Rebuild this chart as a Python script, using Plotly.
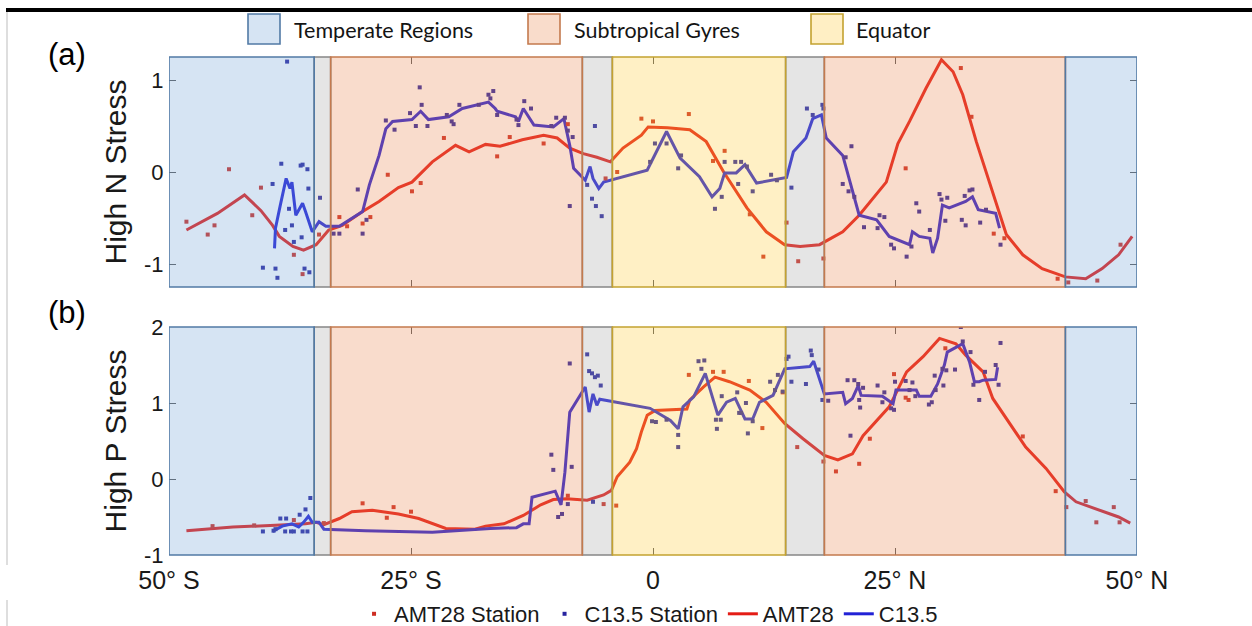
import plotly.graph_objects as go

# ---------------- data ----------------
# region edges (latitude) and region type between consecutive edges
region_edges = [-50, -35, -33.3, -7.3, -4.2, 13.7, 17.7, 42.6, 50]
region_types = ["Temperate Regions", "gap", "Subtropical Gyres", "gap", "Equator",
                "gap", "Subtropical Gyres", "Temperate Regions"]

x_ticks = [-50, -25, 0, 25, 50]
x_ticklabels = ["50° S", "25° S", "0", "25° N", "50° N"]
yN_ticks = [-1, 0, 1]
yN_ticklabels = ["-1", "0", "1"]
yP_ticks = [-1, 0, 1, 2]
yP_ticklabels = ["-1", "0", "1", "2"]

# Panel (a) High N Stress
n_amt_lat = [-48.2, -45.0, -42.2, -40.5, -39.3, -38.6, -37.2, -36.1, -34.8, -33.5, -32.1, -30.0, -28.3,
             -26.3, -24.9, -23.2, -22.8, -20.4, -19.0, -17.3, -15.8, -13.5, -11.3, -9.9, -8.6, -7.2,
             -5.8, -4.4, -3.1, -1.2, -0.5, 1.5, 3.8, 5.5, 7.3, 9.7, 11.7, 13.6, 15.2, 17.2, 17.7,
             19.6, 21.3, 24.1, 25.3, 26.5, 28.2, 29.8, 31.0, 32.0, 33.4, 35.3, 36.5, 38.2, 40.2,
             42.6, 44.7, 46.4, 48.1, 49.5]
n_amt_val = [-0.63, -0.45, -0.25, -0.42, -0.58, -0.70, -0.81, -0.85, -0.79, -0.63, -0.58, -0.43, -0.32,
             -0.17, -0.11, 0.06, 0.11, 0.29, 0.22, 0.30, 0.28, 0.35, 0.40, 0.37, 0.26, 0.20,
             0.16, 0.11, 0.26, 0.40, 0.49, 0.48, 0.46, 0.33, 0.00, -0.39, -0.65, -0.79, -0.81, -0.79, -0.76,
             -0.65, -0.47, -0.11, 0.31, 0.55, 0.91, 1.22, 1.09, 0.84, 0.33, -0.29, -0.68, -0.90, -1.05,
             -1.14, -1.16, -1.05, -0.90, -0.70]

n_c13_lat = [-39.1, -39.0, -38.5, -37.9, -37.5, -37.3, -36.9, -36.2, -35.9, -35.2, -34.5, -33.8, -32.4,
             -31.1, -30.0, -29.3, -28.3, -27.6, -26.9, -24.9, -24.0, -23.2, -21.1, -19.7, -18.0, -17.0,
             -16.3, -16.1, -14.2, -13.9, -13.4, -12.3, -10.3, -9.2, -8.6, -8.2, -7.0, -6.5, -6.2, -5.6,
             -5.1, -0.6, 1.4, 2.8, 4.8, 6.1, 6.9, 7.4, 8.6, 9.5, 10.7, 12.4, 13.8, 14.5, 15.8, 16.5,
             17.4, 17.9, 19.6, 21.3, 23.1, 24.4, 26.5, 26.8, 27.5, 28.6, 28.9, 29.4, 29.9, 30.6, 32.3,
             33.0, 33.6, 35.4, 35.8]
n_c13_val = [-0.83, -0.61, -0.36, -0.07, -0.18, -0.11, -0.47, -0.34, -0.43, -0.65, -0.54, -0.59, -0.59,
             -0.50, -0.43, -0.14, 0.18, 0.47, 0.55, 0.57, 0.66, 0.57, 0.60, 0.69, 0.73, 0.76,
             0.69, 0.66, 0.60, 0.55, 0.69, 0.51, 0.49, 0.58, 0.29, 0.04, -0.09, 0.06, -0.07, -0.18,
             -0.11, 0.02, 0.44, 0.15, -0.05, -0.27, -0.18, -0.01, -0.01, 0.08, -0.12, -0.09, -0.06, 0.22, 0.37, 0.58,
             0.62, 0.37, 0.18, -0.47, -0.52, -0.70, -0.79, -0.65, -0.70, -0.72, -0.88, -0.72, -0.36, -0.39, -0.32,
             -0.27, -0.41, -0.45, -0.61]

n_amt_st_lat = [-48.2, -46.0, -45.3, -43.8, -41.4, -40.5, -37.1, -36.2, -34.5, -32.4, -31.6, -30.0, -29.2,
                -27.4, -24.9, -24.0, -21.6, -16.1, -14.8, -11.3, -8.8, -4.9, -3.7, -1.2, 0.0, 3.7, 6.2,
                7.4, 10.0, 11.4, 13.8, 15.0, 17.6, 26.1, 31.8, 32.9, 35.2, 36.3, 41.8, 42.9, 45.9, 48.3]
n_amt_st_val = [-0.54, -0.68, -0.58, 0.03, -0.47, -0.17, -0.90, -1.11, -0.68, -0.49, -0.59, -0.56, -0.49,
                -0.03, -0.21, -0.12, 0.37, 0.17, 0.38, 0.31, 0.52, -0.07, 0.00, 0.58, 0.55, 0.63, 0.12,
                0.23, -0.46, -0.92, -0.55, -0.97, -0.94, 0.04, 1.13, 0.60, -0.67, -0.72, -1.16, -1.20, -1.18, -0.79]

n_c13_st_lat = [-37.8, -38.4, -39.3, -36.4, -36.2, -35.7, -35.6, -37.6, -37.3, -38.0, -36.3, -37.1, -40.3,
                -39.0, -38.8, -36.0, -35.5, -34.4, -33.0, -32.4, -30.5, -30.0, -29.6, -27.6, -26.7, -25.1,
                -24.1, -23.9, -24.5, -23.3, -21.3, -20.8, -20.6, -20.0, -18.0, -17.0, -16.8, -16.5, -16.1,
                -14.1, -13.9, -13.3, -12.6, -10.5, -10.0, -9.1, -8.8, -8.3, -8.6, -6.0, -6.8, -6.3, -5.9,
                -5.3, 0.2, 1.4, -0.3, 2.6, 2.9, 6.4, 7.1, 7.4, 8.5, 8.8, 9.1, 9.7, 10.3, 12.2, 12.8, 14.3,
                15.9, 16.5, 17.5, 17.6, 20.5, 19.9, 19.6, 20.2, 20.8, 21.8, 23.4, 23.9, 23.2, 24.6, 24.9,
                26.2, 27.2, 27.5, 26.7, 28.6, 29.6, 29.8, 30.4, 30.2, 31.9, 32.3, 32.2, 32.7, 33.0, 33.8,
                34.4, 35.9]
n_c13_st_val = [1.20, 0.09, -0.13, 0.07, 0.08, 0.03, -0.18, -0.40, -0.58, -0.63, -0.71, -0.76, -1.04,
                -1.05, -1.15, -1.05, -1.09, -0.28, -0.67, -0.67, -0.19, -0.67, -0.52, 0.56, 0.46, 0.64,
                0.92, 0.73, 0.50, 0.50, 0.62, 0.55, 0.52, 0.73, 0.73, 0.84, 0.80, 0.88, 0.62,
                0.57, 0.51, 0.77, 0.69, 0.50, 0.59, 0.59, 0.45, 0.38, -0.37, 0.50, -0.14, -0.29, -0.37,
                -0.48, 0.31, 0.31, 0.11, 0.04, 0.18, -0.40, -0.27, 0.11, 0.11, -0.13, 0.11, 0.06, -0.21, -0.03, -0.09, -0.17,
                0.69, 0.62, 0.73, 0.69, 0.28, 0.16, -0.13, -0.21, -0.27, -0.60, -0.47, -0.49, -0.61, -0.79, -0.83,
                -0.92, -0.34, -0.43, -0.81, -0.63, -0.24, -0.30, -0.28, -0.53, -0.52, -0.58, -0.26, -0.20, -0.19, -0.55,
                -0.41, -0.79]

# Panel (b) High P Stress
p_amt_lat = [-48.2, -43.4, -39.0, -35.9, -34.8, -34.0, -32.4, -31.1, -29.0, -26.3, -24.2, -21.4, -18.4,
             -17.3, -15.4, -13.4, -11.6, -10.3, -8.9, -6.8, -5.1, -4.3, -3.7, -2.4, -1.7, -1.2, -0.6,
             0.2, 3.5, 3.8, 5.2, 6.4, 7.9, 10.0, 11.7, 13.6, 15.5, 16.2, 17.7, 19.1, 20.6, 21.7, 24.4,
             26.2, 27.9, 29.6, 31.3, 32.3, 34.1, 35.1, 36.5, 38.5, 40.6, 42.5, 43.7, 46.1, 48.1, 49.3]
p_amt_val = [-0.68, -0.63, -0.61, -0.59, -0.57, -0.60, -0.52, -0.43, -0.41, -0.46, -0.52, -0.65, -0.66,
             -0.62, -0.59, -0.48, -0.34, -0.27, -0.26, -0.28, -0.21, -0.15, 0.03, 0.22, 0.40, 0.62, 0.84,
             0.90, 0.92, 1.04, 1.21, 1.34, 1.28, 1.17, 1.01, 0.73, 0.53, 0.46, 0.31, 0.25, 0.33, 0.57, 0.95,
             1.41, 1.61, 1.85, 1.78, 1.63, 1.41, 1.06, 0.79, 0.42, 0.14, -0.17, -0.30, -0.41, -0.50, -0.58]

p_c13_lat = [-39.3, -38.3, -37.3, -36.6, -36.1, -35.6, -35.2, -34.5, -34.0, -29.7, -22.8, -16.8, -14.1,
             -13.4, -12.8, -12.5, -10.1, -9.5, -9.1, -8.6, -7.0, -6.6, -6.2, -5.8, -5.5, -0.3, 1.8,
             2.6, 3.1, 4.2, 5.4, 6.7, 7.6, 8.5, 9.5, 10.3, 11.0, 12.4, 13.6, 16.2, 16.6, 17.0, 17.7,
             19.6, 19.9, 20.6, 21.2, 21.5, 23.7, 24.8, 25.1, 27.2, 27.5, 28.7, 29.4, 30.1, 30.4, 32.0,
             32.7, 33.2, 33.7, 34.1, 35.4, 35.6]
p_c13_val = [-0.69, -0.62, -0.59, -0.63, -0.57, -0.49, -0.57, -0.57, -0.66, -0.68, -0.70, -0.65, -0.64,
             -0.59, -0.59, -0.24, -0.16, -0.34, 0.09, 0.88, 1.21, 0.88, 1.12, 0.97, 1.05, 0.93, 0.77,
             0.66, 0.95, 1.08, 1.39, 0.84, 1.01, 1.06, 0.79, 0.79, 1.01, 1.10, 1.45, 1.48, 1.55, 1.40, 1.12,
             1.14, 0.99, 1.06, 1.23, 1.10, 1.09, 0.99, 1.17, 1.17, 1.09, 1.09, 1.25, 1.50, 1.67, 1.78,
             1.54, 1.28, 1.28, 1.30, 1.31, 1.47]

p_amt_st_lat = [-45.5, -41.2, -37.1, -34.0, -30.0, -27.5, -26.8, -25.0, -8.8, -5.1, -3.8, 3.7, 6.2, 7.3,
                9.9, 11.3, 13.4, 14.9, 17.6, 18.9, 21.3, 22.4, 24.9, 26.1, 26.4, 30.2, 38.2, 41.6, 42.7,
                44.7, 45.8, 47.6, 48.2]
p_amt_st_val = [-0.62, -0.61, -0.54, -0.58, -0.32, -0.51, -0.37, -0.43, -0.22, -0.33, -0.35, 1.37, 1.41, 1.41,
                1.29, 0.67, 1.14, 0.42, 0.23, 0.10, 0.20, 0.53, 1.38, 1.07, 1.04, 1.72, 0.56, -0.16, -0.37,
                -0.29, -0.57, -0.37, -0.57]

p_c13_st_lat = [-40.3, -39.2, -39.0, -38.5, -37.9, -38.0, -37.4, -37.1, -36.5, -35.9, -35.4, -36.2, -35.7,
                -8.6, -10.5, -10.3, -8.4, -9.8, -9.4, -8.8, -6.8, -6.6, -6.3, -6.0, -5.7, -5.4, -6.2,
                -0.1, 0.3, 1.4, 2.6, 2.6, 4.7, 5.3, 5.0, 6.5, 7.0, 6.6, 7.1, 8.7, 8.9, 9.1, 9.6, 9.8, 10.3,
                12.1, 12.6, 12.9, 13.4, 13.8, 14.0, 14.3, 15.8, 16.3, 16.4, 17.1, 17.5, 18.1, 20.1, 20.8,
                21.2, 21.7, 21.3, 21.4, 20.4, 23.2, 23.9, 23.7, 24.6, 24.9, 25.0, 26.1, 26.8, 26.5, 27.1,
                28.5, 28.8, 29.1, 29.2, 30.0, 29.9, 30.3, 31.2, 32.0, 32.8, 31.8, 33.1, 33.7, 34.3, 35.4,
                35.7, 35.9]
p_c13_st_val = [-0.69, -0.68, -0.66, -0.52, -0.52, -0.69, -0.69, -0.69, -0.47, -0.40, -0.25, -0.69, -0.69,
                1.52, 0.32, 0.12, 0.16, -0.50, -0.46, -0.33, 1.64, 1.42, 1.39, 1.34, 1.36, 1.23, -0.30,
                0.76, 0.75, 0.78, 0.58, 0.42, 1.55, 1.56, 1.45, 0.78, 0.78, 0.66, 1.09, 1.14, 0.87, 0.87, 1.00, 0.60, 0.76,
                1.28, 1.17, 1.37, 1.15, 1.58, 1.61, 1.28, 1.25, 1.69, 1.63, 1.44, 1.04, 1.03, 1.30, 1.30,
                1.25, 1.20, 1.04, 0.94, 0.57, 1.23, 1.14, 1.01, 0.93, 0.91, 1.28, 1.29, 1.27, 1.17, 1.09,
                0.98, 1.01, 1.36, 1.17, 1.23, 1.45, 1.43, 1.44, 1.81, 1.67, 2.00, 1.24, 1.04, 1.41, 1.50,
                1.24, 1.79]

# ---------------- styles ----------------
W, H = 1252, 626
FONT = "Arial, Liberation Sans, sans-serif"
RED = "rgb(228,28,22)"
BLUE = "rgb(34,34,214)"
RED_PT = "rgb(205,45,35)"
BLUE_PT = "rgb(40,36,160)"

region_fill = {  # overlay colour (drawn semi-transparent above the data)
    "Temperate Regions": "rgb(118,165,215)",
    "Subtropical Gyres": "rgb(235,140,85)",
    "Equator": "rgb(255,205,62)",
    "gap": "rgb(170,170,170)",
}
region_light = {
    "Temperate Regions": "rgb(214,228,243)",
    "Subtropical Gyres": "rgb(249,220,203)",
    "Equator": "rgb(255,239,196)",
    "gap": "rgb(230,230,230)",
}
region_edge = {
    "Temperate Regions": "rgb(82,122,165)",
    "Subtropical Gyres": "rgb(196,122,78)",
    "Equator": "rgb(196,162,48)",
    "gap": "rgb(135,135,135)",
}
ALPHA = 0.30

def px_x(p):
    return p / W

def px_y(p):
    return 1 - p / H

xdom = [px_x(169), px_x(1137)]

fig = go.Figure()

panels = [
    ("x", "y", n_amt_lat, n_amt_val, n_c13_lat, n_c13_val, n_amt_st_lat, n_amt_st_val, n_c13_st_lat, n_c13_st_val, True),
    ("x2", "y2", p_amt_lat, p_amt_val, p_c13_lat, p_c13_val, p_amt_st_lat, p_amt_st_val, p_c13_st_lat, p_c13_st_val, False),
]

for xa, ya, al, av, cl, cv, asl, asv, csl, csv, show in panels:
    fig.add_trace(go.Scatter(x=al, y=av, xaxis=xa, yaxis=ya, mode="lines", name="AMT28",
                             line=dict(color=RED, width=3), showlegend=show, legendrank=3))
    fig.add_trace(go.Scatter(x=cl, y=cv, xaxis=xa, yaxis=ya, mode="lines", name="C13.5",
                             line=dict(color=BLUE, width=3), showlegend=show, legendrank=4))
    fig.add_trace(go.Scatter(x=asl, y=asv, xaxis=xa, yaxis=ya, mode="markers", name="AMT28 Station",
                             marker=dict(color=RED_PT, size=4, symbol="square"), showlegend=show, legendrank=1))
    fig.add_trace(go.Scatter(x=csl, y=csv, xaxis=xa, yaxis=ya, mode="markers", name="C13.5 Station",
                             marker=dict(color=BLUE_PT, size=4, symbol="square"), showlegend=show, legendrank=2))

shapes = []
for xa, ya in [("x", "y"), ("x2", "y2")]:
    for i, rt in enumerate(region_types):
        shapes.append(dict(type="rect", xref=xa, yref=ya + " domain",
                           x0=region_edges[i], x1=region_edges[i + 1], y0=0, y1=1,
                           fillcolor=region_fill[rt], opacity=ALPHA, line=dict(width=0), layer="above"))
    order = [i for i, rt in enumerate(region_types) if rt == "gap"] + \
            [i for i, rt in enumerate(region_types) if rt != "gap"]
    for i in order:
        rt = region_types[i]
        shapes.append(dict(type="rect", xref=xa, yref=ya + " domain",
                           x0=region_edges[i], x1=region_edges[i + 1], y0=0, y1=1,
                           fillcolor="rgba(0,0,0,0)", line=dict(color=region_edge[rt], width=1.6),
                           layer="above"))

# top legend boxes for region types
annotations = []
legend_items = [("Temperate Regions", 248, 292), ("Subtropical Gyres", 528, 572), ("Equator", 811, 854)]
for name, bx, tx in legend_items:
    shapes.append(dict(type="rect", xref="paper", yref="paper",
                       x0=px_x(bx), x1=px_x(bx + 32), y0=px_y(44), y1=px_y(14),
                       fillcolor=region_light[name], line=dict(color=region_edge[name], width=1.6)))
    annotations.append(dict(xref="paper", yref="paper", x=px_x(tx), y=px_y(30), xanchor="left",
                            yanchor="middle", text=name, showarrow=False,
                            font=dict(family="Lato, Carlito, sans-serif", size=21.5, color="rgb(20,20,20)")))

# frame decorations from the original figure
shapes.append(dict(type="line", xref="paper", yref="paper", x0=px_x(6), x1=1, y0=px_y(10), y1=px_y(10),
                   line=dict(color="black", width=4)))
shapes.append(dict(type="line", xref="paper", yref="paper", x0=px_x(7), x1=px_x(7), y0=px_y(12), y1=px_y(565),
                   line=dict(color="rgb(200,200,200)", width=1.2)))
shapes.append(dict(type="line", xref="paper", yref="paper", x0=px_x(7), x1=px_x(7), y0=px_y(600), y1=0,
                   line=dict(color="rgb(200,200,200)", width=1.2)))

for lab, yy in [("(a)", 54), ("(b)", 312)]:
    annotations.append(dict(xref="paper", yref="paper", x=px_x(67), y=px_y(yy), xanchor="center",
                            yanchor="middle", text=lab, showarrow=False,
                            font=dict(family=FONT, size=31, color="black")))

axis_common = dict(range=[-50, 50], tickvals=x_ticks, ticks="inside", ticklen=7, tickwidth=1,
                   tickcolor="rgb(90,90,90)", showline=True, linecolor="rgba(0,0,0,0)", mirror="ticks",
                   showgrid=False, zeroline=False, domain=xdom, automargin=False,
                   tickfont=dict(family=FONT, size=25, color="rgb(25,25,25)"))
yaxis_common = dict(ticks="inside", ticklen=7, tickwidth=1, tickcolor="rgb(90,90,90)", showline=True,
                    linecolor="rgba(0,0,0,0)", mirror="ticks", showgrid=False, zeroline=False, automargin=False,
                    tickfont=dict(family=FONT, size=22, color="rgb(25,25,25)"))

fig.update_layout(
    width=W, height=H,
    margin=dict(l=0, r=0, t=0, b=0, pad=0, autoexpand=False),
    paper_bgcolor="white", plot_bgcolor="white",
    xaxis=dict(axis_common, anchor="y", showticklabels=False),
    yaxis=dict(yaxis_common, anchor="x", domain=[px_y(287), px_y(57)], range=[-1.25, 1.25],
               tickvals=yN_ticks, ticktext=yN_ticklabels,
               title=dict(text="High N Stress", standoff=8, font=dict(family=FONT, size=30, color="rgb(25,25,25)"))),
    xaxis2=dict(axis_common, anchor="y2", ticktext=x_ticklabels, ticklabelstandoff=3),
    yaxis2=dict(yaxis_common, anchor="x2", domain=[px_y(555), px_y(327)], range=[-1, 2],
                tickvals=yP_ticks, ticktext=yP_ticklabels,
                title=dict(text="High P Stress", standoff=8, font=dict(family=FONT, size=30, color="rgb(25,25,25)"))),
    shapes=shapes,
    annotations=annotations,
    showlegend=True,
    legend=dict(orientation="h", x=0.518, xanchor="center", y=px_y(614), yanchor="middle",
                font=dict(family=FONT, size=22, color="rgb(25,25,25)"), bgcolor="rgba(0,0,0,0)",
                itemwidth=30, tracegroupgap=0),
)

fig.write_html("out.html")
